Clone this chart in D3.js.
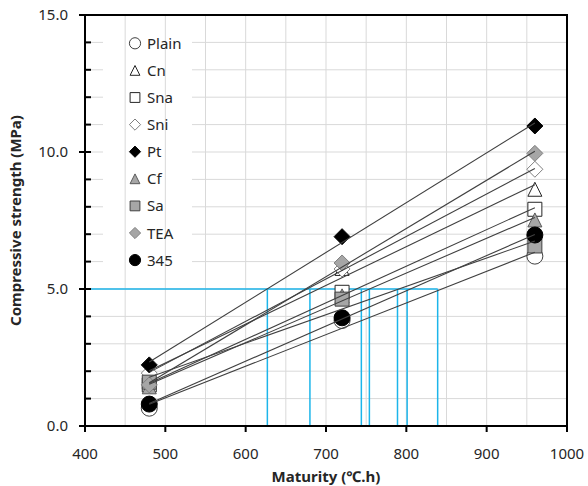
<!DOCTYPE html>
<html>
<head>
<meta charset="utf-8">
<script src="https://cdn.jsdelivr.net/npm/d3@7"></script>
<style>
  body { margin: 0; background: #fff; }
  svg text { font-family: "Noto Sans", "DejaVu Sans", sans-serif; fill: #262626; }
</style>
</head>
<body>
<svg id="chart" width="588" height="486"></svg>
<script>
// maturity ages (C.h) where the cylinders were tested
const maturity = [480, 720, 960];

// compressive strength (MPa) per mix
const plain = [0.65, 3.85, 6.2];
const cn    = [1.85, 5.75, 8.64];
const sna   = [1.5, 4.88, 7.91];
const sni   = [1.93, 5.73, 9.37];
const pt    = [2.23, 6.91, 10.95];
const cf    = [1.43, 4.75, 7.52];
const sa    = [1.6, 4.63, 6.57];
const tea   = [1.5, 5.95, 9.95];
const s345  = [0.8, 3.95, 6.97];

const seriesNames = ["Plain", "Cn", "Sna", "Sni", "Pt", "Cf", "Sa", "TEA", "345"];
const seriesValues = [plain, cn, sna, sni, pt, cf, sa, tea, s345];

// 5 MPa target and maturities where the trend lines reach it
const targetStrength = 5.0;
const crossMaturity = [627, 680, 744, 754, 789, 801, 839];

const xTicks = [400, 500, 600, 700, 800, 900, 1000];
const yTicks = [0, 5, 10, 15];

// marker look for each series
const markerShape = ["circle", "triangle", "square", "diamond", "diamond", "triangle", "square", "diamond", "circle"];
const markerFill   = ["#fff", "#fff", "#fff", "#fff", "#000", "#a6a6a6", "#a6a6a6", "#a6a6a6", "#000"];
const markerStroke = ["#404040", "#262626", "#262626", "#7f7f7f", "#000", "#595959", "#404040", "#7f7f7f", "#000"];

const svg = d3.select("#chart");
const x = d3.scaleLinear().domain([400, 1000]).range([85, 567]);
const y = d3.scaleLinear().domain([0, 15]).range([426, 15]);

// custom marker shapes, size = width squared
const shapes = {
  circle: { draw(c, s) { const r = Math.sqrt(s) / 2; c.moveTo(r, 0); c.arc(0, 0, r, 0, 2 * Math.PI); } },
  triangle: { draw(c, s) { const r = Math.sqrt(s) / 2; c.moveTo(0, -r); c.lineTo(r, r); c.lineTo(-r, r); c.closePath(); } },
  square: { draw(c, s) { const r = Math.sqrt(s) / 2; c.rect(-r, -r, 2 * r, 2 * r); } },
  diamond: { draw(c, s) { const r = Math.sqrt(s) / 2; c.moveTo(0, -r); c.lineTo(r, 0); c.lineTo(0, r); c.lineTo(-r, 0); c.closePath(); } }
};
const markerSize = { circle: 16, triangle: 14, square: 14, diamond: 16 };

// gridlines
const grid = svg.append("g");
grid.selectAll("line.h")
  .data(d3.range(1, 15))
  .enter().append("line")
  .attr("x1", x(400)).attr("x2", x(1000))
  .attr("y1", d => y(d)).attr("y2", d => y(d))
  .attr("stroke", "#d9d9d9").attr("stroke-width", 1);

// legend background hides the horizontal grid only
svg.append("rect")
  .attr("x", 103).attr("y", 30).attr("width", 89).attr("height", 243)
  .attr("fill", "#fff");

svg.append("g").selectAll("line")
  .data(d3.range(450, 1000, 50))
  .enter().append("line")
  .attr("x1", d => x(d)).attr("x2", d => x(d))
  .attr("y1", y(0)).attr("y2", y(15))
  .attr("stroke", "#d9d9d9").attr("stroke-width", 1);

// blue 5 MPa guide lines
const guide = svg.append("g").attr("stroke", "#1cb5ea").attr("stroke-width", 1.5);
guide.append("line")
  .attr("x1", x(400)).attr("x2", x(d3.max(crossMaturity)))
  .attr("y1", y(targetStrength)).attr("y2", y(targetStrength));
guide.selectAll("line.v")
  .data(crossMaturity)
  .enter().append("line")
  .attr("x1", d => x(d)).attr("x2", d => x(d))
  .attr("y1", y(0)).attr("y2", y(targetStrength));

// markers
seriesValues.forEach(function(vals, i) {
  const sym = d3.symbol().type(shapes[markerShape[i]]).size(Math.pow(markerSize[markerShape[i]], 2));
  svg.append("g").selectAll("path")
    .data(vals)
    .enter().append("path")
    .attr("d", sym)
    .attr("transform", (d, j) => `translate(${x(maturity[j])},${y(d)})`)
    .attr("fill", markerFill[i])
    .attr("stroke", markerStroke[i])
    .attr("stroke-width", 1);
});

// linear trend lines (least squares over the three ages)
function fit(vals) {
  const mx = d3.mean(maturity), my = d3.mean(vals);
  let num = 0, den = 0;
  for (let j = 0; j < maturity.length; j++) {
    num += (maturity[j] - mx) * (vals[j] - my);
    den += (maturity[j] - mx) * (maturity[j] - mx);
  }
  const b = num / den;
  return m => my + b * (m - mx);
}
const trend = svg.append("g").attr("stroke", "#404040").attr("stroke-width", 1.1);
seriesValues.forEach(function(vals) {
  const f = fit(vals);
  const x0 = d3.min(maturity), x1 = d3.max(maturity);
  trend.append("line")
    .attr("x1", x(x0)).attr("y1", y(f(x0)))
    .attr("x2", x(x1)).attr("y2", y(f(x1)));
});

// frame
svg.append("rect")
  .attr("x", x(400)).attr("y", y(15))
  .attr("width", x(1000) - x(400)).attr("height", y(0) - y(15))
  .attr("fill", "none").attr("stroke", "#000").attr("stroke-width", 2);

// x axis
const xAxis = svg.append("g");
xAxis.selectAll("line")
  .data(xTicks).enter().append("line")
  .attr("x1", d => x(d)).attr("x2", d => x(d))
  .attr("y1", y(0)).attr("y2", y(0) + 6)
  .attr("stroke", "#000").attr("stroke-width", 2);
xAxis.selectAll("text")
  .data(xTicks).enter().append("text")
  .attr("x", d => x(d)).attr("y", 459)
  .attr("text-anchor", "middle")
  .attr("font-size", 15)
  .text(d => d);

// y axis: major ticks cross, minor ticks inside
const yAxis = svg.append("g");
yAxis.selectAll("line.minor")
  .data(d3.range(1, 15)).enter().append("line")
  .attr("x1", x(400)).attr("x2", x(400) + 6)
  .attr("y1", d => y(d)).attr("y2", d => y(d))
  .attr("stroke", "#000").attr("stroke-width", 2);
yAxis.selectAll("line.major")
  .data(yTicks).enter().append("line")
  .attr("x1", x(400) - 6).attr("x2", x(400) + 6)
  .attr("y1", d => y(d)).attr("y2", d => y(d))
  .attr("stroke", "#000").attr("stroke-width", 2);
yAxis.selectAll("text")
  .data(yTicks).enter().append("text")
  .attr("x", 68).attr("y", d => y(d) + 5)
  .attr("text-anchor", "end")
  .attr("font-size", 15)
  .text(d => d3.format(".1f")(d));

// axis titles
svg.append("text")
  .attr("x", (x(400) + x(1000)) / 2).attr("y", 482)
  .attr("text-anchor", "middle")
  .attr("font-size", 15).attr("font-weight", "bold")
  .text("Maturity (\u2103.h)");
svg.append("text")
  .attr("transform", `translate(21,${(y(0) + y(15)) / 2}) rotate(-90)`)
  .attr("text-anchor", "middle")
  .attr("font-size", 15).attr("font-weight", "bold")
  .text("Compressive strength (MPa)");

// legend
const legend = svg.append("g");
seriesNames.forEach(function(name, i) {
  const ly = 43.3 + i * 27.1;
  const shp = markerShape[i];
  legend.append("path")
    .attr("d", d3.symbol().type(shapes[shp]).size(Math.pow(markerSize[shp] * 0.7, 2)))
    .attr("transform", `translate(135,${ly})`)
    .attr("fill", markerFill[i])
    .attr("stroke", markerStroke[i])
    .attr("stroke-width", 1);
  legend.append("text")
    .attr("x", 147).attr("y", ly + 5.5)
    .attr("font-size", 15)
    .text(name);
});
</script>
</body>
</html>
